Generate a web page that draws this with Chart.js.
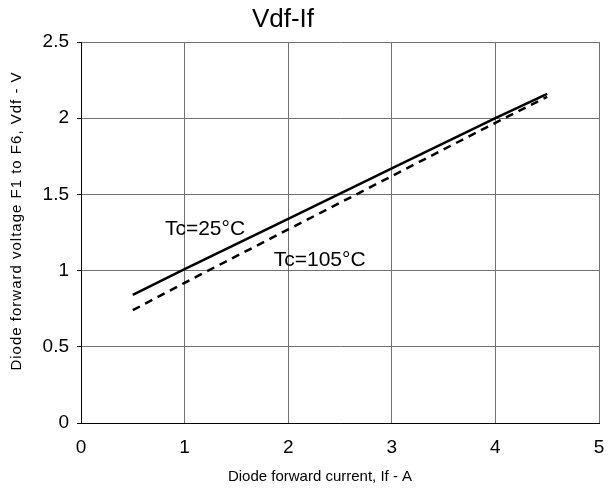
<!DOCTYPE html>
<html><head><meta charset="utf-8">
<script src="https://cdn.jsdelivr.net/npm/chart.js@4/dist/chart.umd.min.js"></script>
<style>html,body{margin:0;padding:0;background:#fff}#wrap{width:610px;height:489px}</style>
</head><body><div id="wrap"><canvas id="c" width="610" height="489"></canvas></div>
<script>
const currentA = [0.5, 1, 2, 3, 4, 4.5];
const vdf25 = [0.84, 1.01, 1.34, 1.67, 2.00, 2.16];
const vdf105 = [0.74, 0.92, 1.27, 1.62, 1.97, 2.14];
const xTicks = [0, 1, 2, 3, 4, 5];
const yTicks = [0, 0.5, 1, 1.5, 2, 2.5];
const chartTitle = 'Vdf-If';
const xTitle = 'Diode forward current, If - A';
const yTitle = 'Diode forward voltage F1 to F6, Vdf - V';
const labels = [
  {text: 'Tc=25°C', x: 0.81, y: 1.27},
  {text: 'Tc=105°C', x: 1.86, y: 1.07}
];
const FONT = "'Liberation Sans', Arial, sans-serif";

const textPlugin = {
  id: 'txt',
  afterDraw(chart) {
    const ctx = chart.ctx, xs = chart.scales.x, ys = chart.scales.y, a = chart.chartArea;
    ctx.save();
    ctx.fillStyle = '#000';
    ctx.textBaseline = 'middle';
    ctx.font = '21px ' + FONT;
    ctx.textAlign = 'left';
    labels.forEach(l => ctx.fillText(l.text, xs.getPixelForValue(l.x), ys.getPixelForValue(l.y)));
    ctx.textAlign = 'center';
    ctx.font = '26px ' + FONT;
    ctx.fillText(chartTitle, a.left + 202, a.top - 22);
    ctx.font = '15px ' + FONT;
    ctx.fillText(xTitle, a.left + 239, a.bottom + 54);
    ctx.translate(17, a.top + 179);
    ctx.rotate(-Math.PI / 2);
    ctx.letterSpacing = '1px';
    ctx.fillText(yTitle, 0, 0);
    ctx.restore();
  }
};

new Chart(document.getElementById('c'), {
  type: 'scatter',
  data: {
    datasets: [
      {data: currentA.map((x, i) => ({x, y: vdf25[i]})), showLine: true, borderColor: '#000', borderWidth: 2.5, pointRadius: 0, fill: false},
      {data: currentA.map((x, i) => ({x, y: vdf105[i]})), showLine: true, borderColor: '#000', borderWidth: 2.5, borderDash: [8, 6], pointRadius: 0, fill: false}
    ]
  },
  options: {
    responsive: false, animation: false,
    layout: {padding: {top: 42, right: 11, left: 0, bottom: 0}},
    plugins: {legend: {display: false}, tooltip: {enabled: false}, title: {display: false}},
    scales: {
      x: {
        type: 'linear', min: 0, max: 5,
        afterBuildTicks: s => { s.ticks = xTicks.map(v => ({value: v})); },
        afterFit: s => { s.height = 66; s.paddingRight = 0; s.paddingLeft = 0; },
        ticks: {color: '#000', font: {family: FONT, size: 19}, padding: 13, maxRotation: 0},
        grid: {color: '#707070', drawTicks: false},
        border: {color: '#000', width: 1}
      },
      y: {
        type: 'linear', min: 0, max: 2.5,
        afterBuildTicks: s => { s.ticks = yTicks.map(v => ({value: v})); },
        afterFit: s => { s.width = 81; s.paddingTop = 0; s.paddingBottom = 0; },
        ticks: {color: '#000', font: {family: FONT, size: 19}, padding: 8, callback: v => String(v)},
        grid: {color: '#707070', tickLength: 4, tickColor: '#000'},
        border: {color: '#000', width: 1}
      }
    }
  },
  plugins: [textPlugin]
});
</script></body></html>
